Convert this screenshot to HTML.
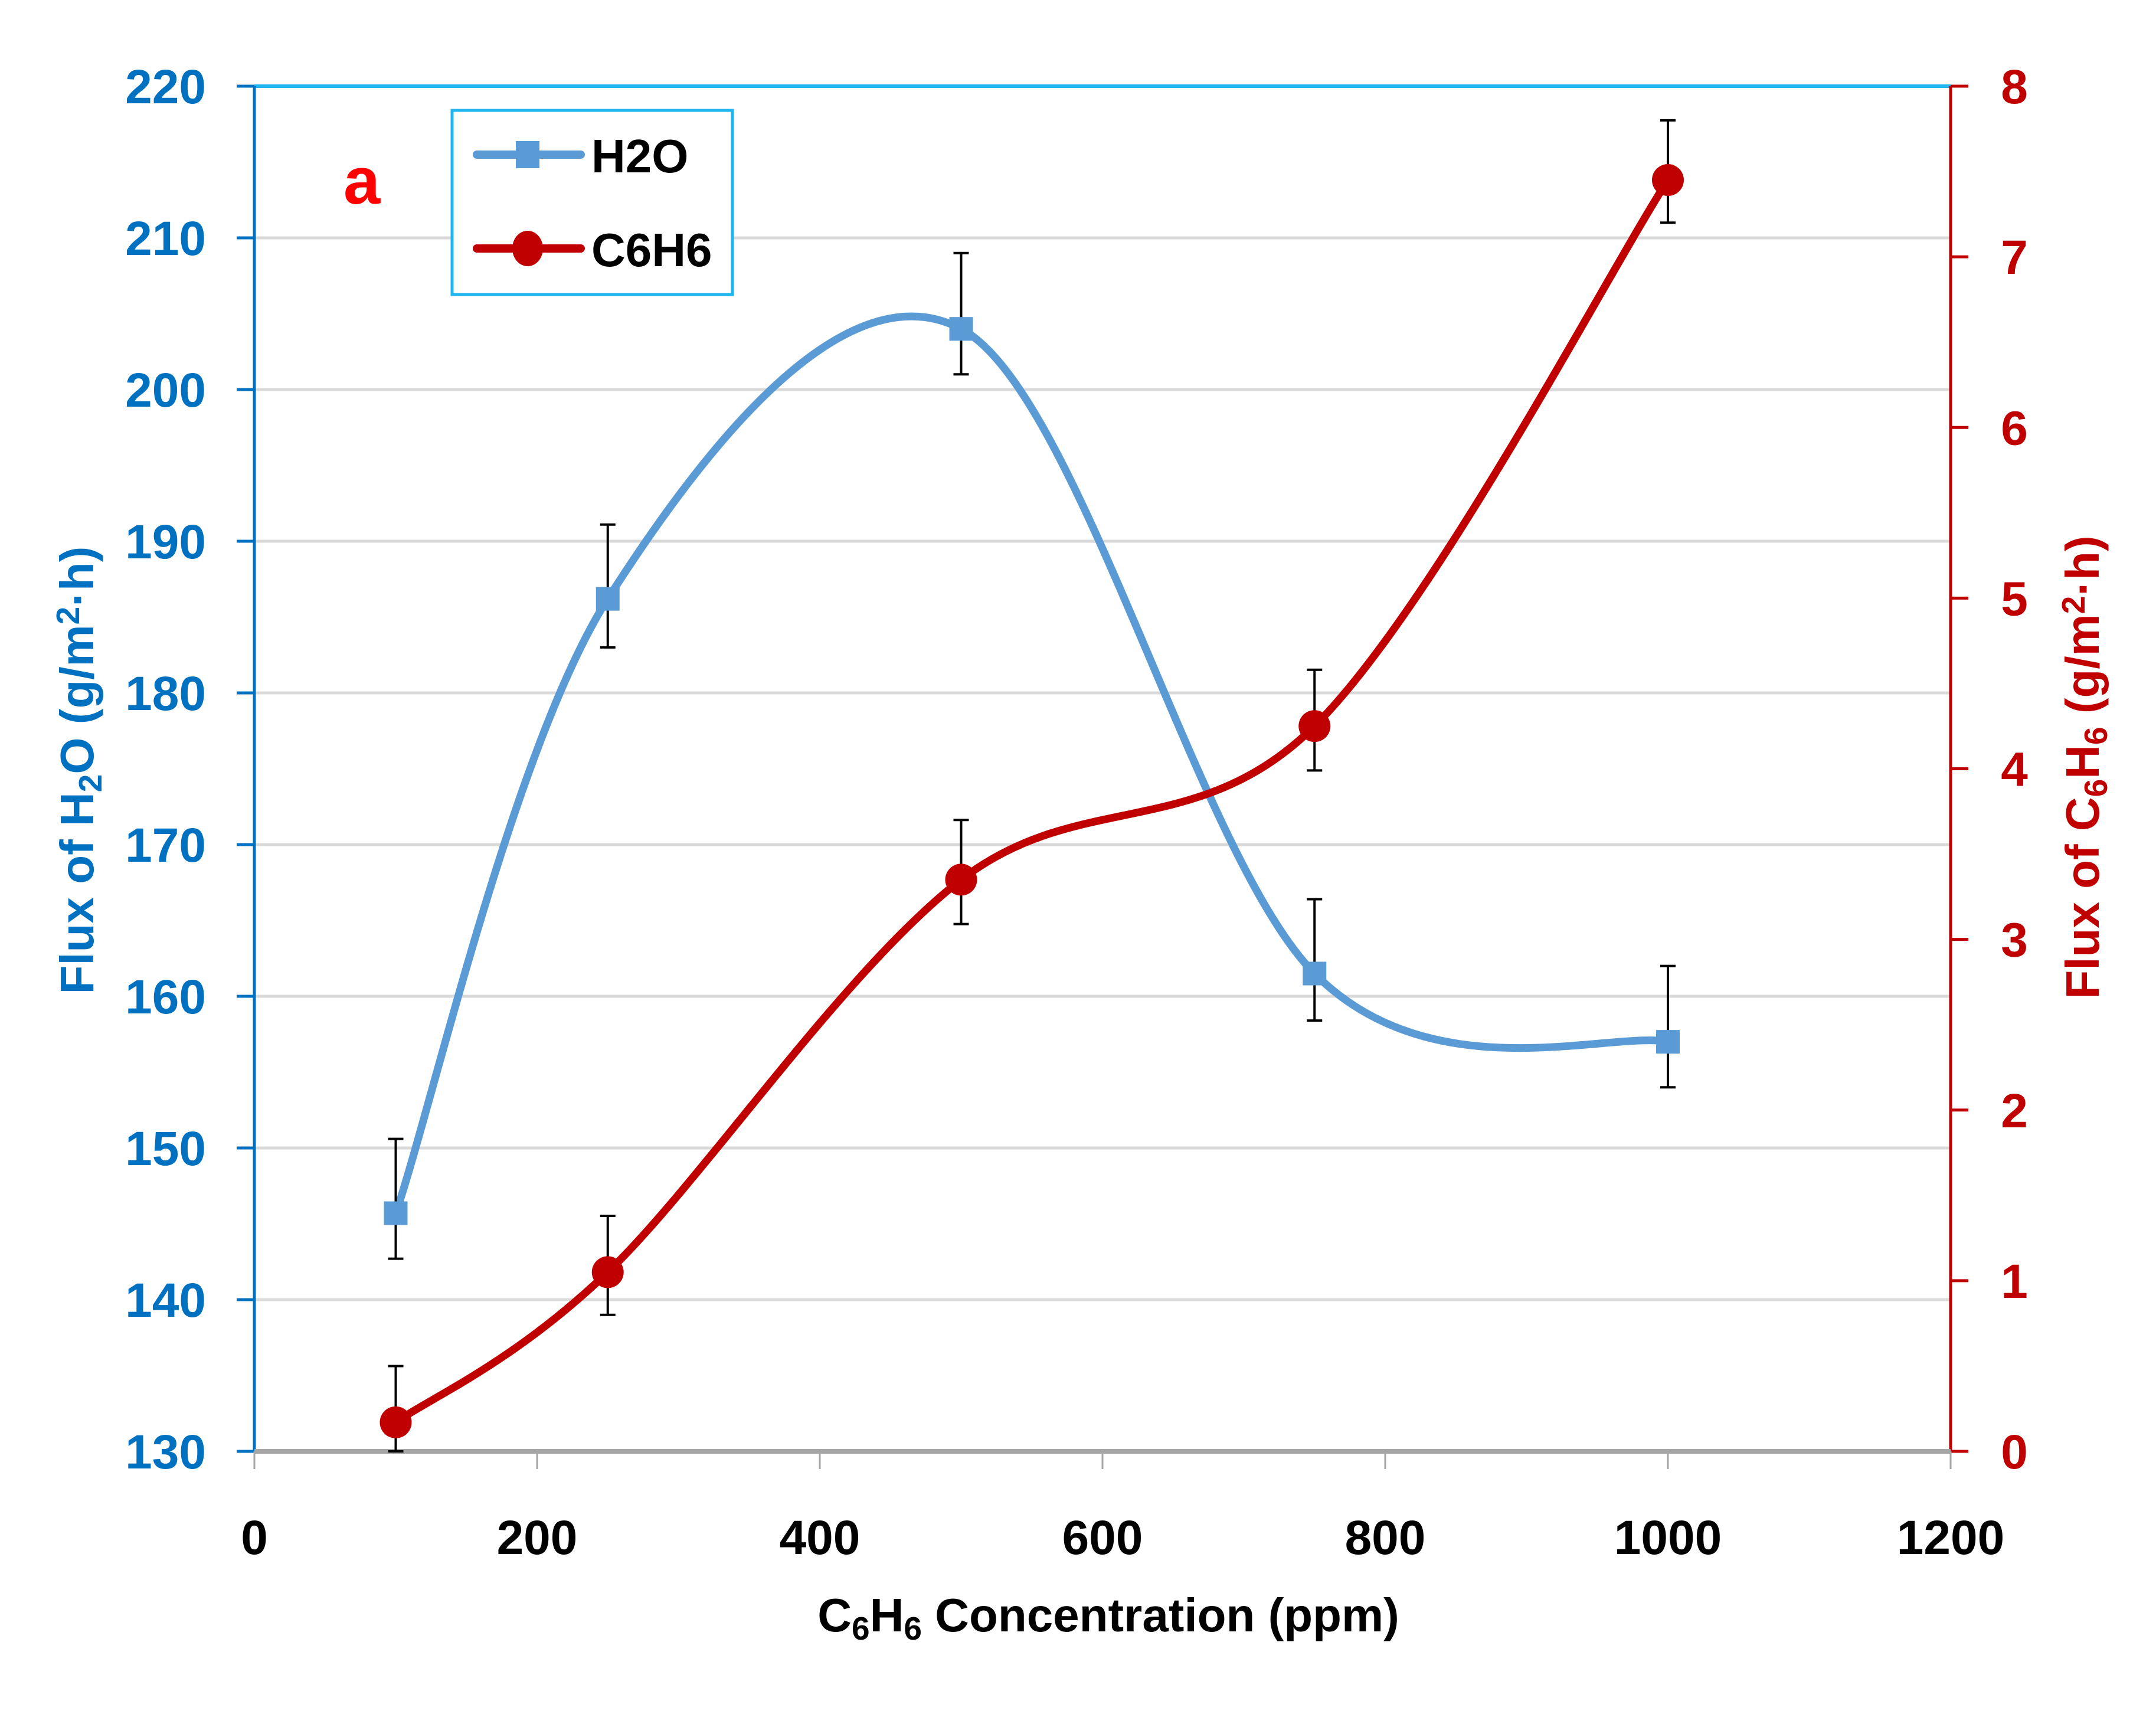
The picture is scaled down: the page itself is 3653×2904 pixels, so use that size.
<!DOCTYPE html>
<html><head><meta charset="utf-8"><style>
html,body{margin:0;padding:0;background:#fff;}
svg{display:block;font-family:"Liberation Sans",sans-serif;font-weight:bold;}
</style></head><body>
<svg id="chart" width="3653" height="2904" viewBox="0 0 3653 2904">
<g id="grid"></g>
<g id="axes"></g>
<g id="series"></g>
<text x="613" y="345" font-size="112" fill="#ff0000" text-anchor="middle" font-family="Liberation Sans, sans-serif">a</text>
<g>
<rect x="766" y="187" width="475" height="312" fill="#fff" stroke="#1fb5ee" stroke-width="5"/>
<g>
<line x1="808" y1="262" x2="984" y2="262" stroke="#5b9bd5" stroke-width="14" stroke-linecap="round"/>
<rect x="874" y="239" width="40" height="46" fill="#5b9bd5"/>
<text x="1002" y="292" font-size="80" fill="#000">H2O</text>
</g>
<g>
<line x1="808" y1="421" x2="984" y2="421" stroke="#c00000" stroke-width="14" stroke-linecap="round"/>
<ellipse cx="894" cy="421" rx="26" ry="30" fill="#c00000"/>
<text x="1002" y="451" font-size="80" fill="#000">C6H6</text>
</g>
</g>
<text transform="translate(158,1305) rotate(-90)" font-size="80" fill="#0070c0" text-anchor="middle">Flux of H<tspan font-size="55" dy="14">2</tspan><tspan dy="-14">O (g/m</tspan><tspan font-size="55" dy="-24">2</tspan><tspan dy="24">·h)</tspan></text>
<text transform="translate(3556,1300) rotate(-90)" font-size="80" fill="#c00000" text-anchor="middle">Flux of C<tspan font-size="55" dy="14">6</tspan><tspan dy="-14">H</tspan><tspan font-size="55" dy="14">6</tspan><tspan dy="-14"> (g/m</tspan><tspan font-size="55" dy="-24">2</tspan><tspan dy="24">·h)</tspan></text>
<text x="1878" y="2764" font-size="80" fill="#000" text-anchor="middle">C<tspan font-size="55" dy="14">6</tspan><tspan dy="-14">H</tspan><tspan font-size="55" dy="14">6</tspan><tspan dy="-14"> Concentration (ppm)</tspan></text>
</svg>
<script>
const categories=[100,250,500,750,1000];
const h2oValues=[145.7,186.2,204,161.5,157];
const h2oLow=[142.7,183,201,158.4,154];
const h2oHigh=[150.6,191.1,209,166.4,162];
const c6h6Values=[0.17,1.05,3.35,4.25,7.45];
const c6h6Low=[0.0,0.8,3.09,3.99,7.2];
const c6h6High=[0.5,1.38,3.7,4.58,7.8];
const xTicks=[0,200,400,600,800,1000,1200];
const leftTicks=[130,140,150,160,170,180,190,200,210,220];
const rightTicks=[0,1,2,3,4,5,6,7,8];

const X0=431,X1=3305,Y0=2459,Y1=146;
const xs=v=>X0+(v-0)/(1200-0)*(X1-X0);
const yl=v=>Y0-(v-130)/(220-130)*(Y0-Y1);
const yr=v=>Y0-(v-0)/(8-0)*(Y0-Y1);
const NS="http://www.w3.org/2000/svg";
function mk(tag,attrs,parent){const e=document.createElementNS(NS,tag);for(const k in attrs)e.setAttribute(k,attrs[k]);parent.appendChild(e);return e;}
const grid=document.getElementById('grid'),axes=document.getElementById('axes'),series=document.getElementById('series');

leftTicks.forEach(t=>{
  const y=yl(t);
  if(t!==130&&t!==220){const g=mk('line',{x1:X0,x2:X1,y1:y,y2:y,stroke:'#d9d9d9','stroke-width':5},grid);
  
  }
  mk('line',{x1:X0-30,x2:X0,y1:y,y2:y,stroke:'#0070c0','stroke-width':5},axes);
  const tx=mk('text',{x:349,y:y+29,'font-size':82,fill:'#0070c0','text-anchor':'end'},axes);
  tx.textContent=t;
  
  
});
rightTicks.forEach(t=>{
  const y=yr(t);
  mk('line',{x1:X1,x2:X1+30,y1:y,y2:y,stroke:'#c00000','stroke-width':5},axes);
  const tx=mk('text',{x:3413,y:y+29,'font-size':82,fill:'#c00000','text-anchor':'middle'},axes);
  tx.textContent=t;
  
  
});
xTicks.forEach(t=>{
  const x=xs(t);
  mk('line',{x1:x,x2:x,y1:Y0,y2:Y0+30,stroke:'#a6a6a6','stroke-width':3},axes);
  const tx=mk('text',{x:x,y:2633,'font-size':82,fill:'#000','text-anchor':'middle'},axes);
  tx.textContent=t;
  
  
});
let a=mk('line',{x1:X0,x2:X1,y1:Y1,y2:Y1,stroke:'#1fb5ee','stroke-width':6},axes);


a=mk('line',{x1:X0,x2:X0,y1:Y1,y2:Y0,stroke:'#0070c0','stroke-width':5},axes);


a=mk('line',{x1:X1,x2:X1,y1:Y1,y2:Y0,stroke:'#c00000','stroke-width':5},axes);


a=mk('line',{x1:X0,x2:X1,y1:Y0,y2:Y0,stroke:'#a6a6a6','stroke-width':8},axes);



function smooth(pts){
  let d='M'+pts[0][0]+','+pts[0][1];
  for(let i=0;i<pts.length-1;i++){
    const p0=pts[i-1]||pts[i],p1=pts[i],p2=pts[i+1],p3=pts[i+2]||pts[i+1];
    const c1=[p1[0]+(p2[0]-p0[0])/6,p1[1]+(p2[1]-p0[1])/6];
    const c2=[p2[0]-(p3[0]-p1[0])/6,p2[1]-(p3[1]-p1[1])/6];
    d+=' C'+c1+' '+c2+' '+p2;
  }
  return d;
}
function drawSeries(name,vals,lo,hi,yf,color,marker){
  const g=mk('g',{},series);
  
  
  const pts=categories.map((c,i)=>[xs(c),yf(vals[i])]);
  const p=mk('path',{d:smooth(pts),fill:'none',stroke:color,'stroke-width':13,'stroke-linecap':'round'},g);
  
  
  categories.forEach((c,i)=>{
    const x=xs(c),ya=yf(lo[i]),yb=yf(hi[i]);
    const e=mk('path',{d:`M${x},${ya}V${yb}M${x-13},${ya}H${x+13}M${x-13},${yb}H${x+13}`,stroke:'#000','stroke-width':4,fill:'none'},g);
    
    
  });
  categories.forEach((c,i)=>{
    const x=xs(c),y=yf(vals[i]);
    let m;
    if(marker==='square') m=mk('rect',{x:x-20,y:y-20,width:40,height:40,fill:color},g);
    else m=mk('circle',{cx:x,cy:y,r:27,fill:color},g);
    
    
  });
}
drawSeries('h2o',h2oValues,h2oLow,h2oHigh,yl,'#5b9bd5','square');
drawSeries('c6h6',c6h6Values,c6h6Low,c6h6High,yr,'#c00000','circle');
</script>
</body></html>
